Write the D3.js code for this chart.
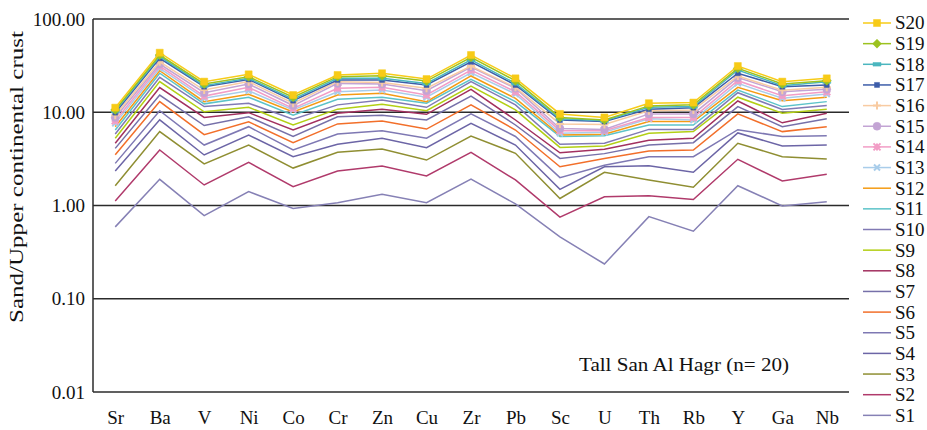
<!DOCTYPE html>
<html>
<head>
<meta charset="utf-8">
<script src="https://cdn.jsdelivr.net/npm/d3@7"></script>
<style>
  body { margin: 0; background: #fff; }
  text { font-family: "Liberation Serif", "DejaVu Serif", serif; fill: #111; }
</style>
</head>
<body>
<script>

// elements on the x axis
var elements = ["Sr", "Ba", "V", "Ni", "Co", "Cr", "Zn", "Cu", "Zr", "Pb", "Sc", "U", "Th", "Rb", "Y", "Ga", "Nb"];

var yTicks = [0.01, 0.1, 1, 10, 100];

// sand / upper continental crust ratios, one list per sample
var S1  = [0.59, 1.91, 0.78, 1.41, 0.93, 1.07, 1.32, 1.07, 1.92, 1.04, 0.46, 0.236, 0.76, 0.53, 1.63, 0.99, 1.10];
var S2  = [1.12, 3.94, 1.66, 2.90, 1.59, 2.34, 2.65, 2.07, 3.72, 1.88, 0.75, 1.24, 1.27, 1.16, 3.13, 1.83, 2.16];
var S3  = [1.63, 6.2, 2.79, 4.45, 2.52, 3.72, 4.03, 3.07, 5.56, 3.63, 1.19, 2.27, 1.88, 1.57, 4.65, 3.34, 3.15];
var S4  = [2.34, 8.3, 3.48, 5.7, 3.34, 4.53, 5.26, 4.17, 7.6, 4.45, 1.49, 2.6, 2.67, 2.27, 6.0, 4.35, 4.45];
var S5  = [2.83, 10.4, 4.45, 7.0, 3.94, 5.85, 6.35, 5.26, 9.6, 5.5, 1.99, 2.7, 3.34, 3.34, 6.5, 5.5, 5.6];
var S6  = [3.5, 13.0, 5.75, 7.9, 4.72, 7.5, 8.05, 6.6, 12.0, 6.45, 2.6, 3.2, 3.85, 3.94, 9.6, 6.2, 7.0];
var S7  = [4.1, 15.3, 7.2, 8.96, 5.5, 8.96, 9.3, 8.26, 14.9, 7.3, 3.2, 3.6, 4.45, 4.72, 11.5, 7.0, 8.5];
var S8  = [4.65, 18.4, 8.8, 9.9, 6.45, 9.75, 10.8, 9.5, 17.6, 8.26, 3.68, 4.0, 5.0, 5.26, 13.2, 7.7, 9.75];
var S9  = [5.26, 21.3, 10.1, 11.3, 7.3, 10.8, 12.2, 10.4, 19.1, 10.6, 4.2, 4.35, 5.95, 6.2, 14.5, 9.75, 10.8];
var S10 = [5.85, 23.7, 11.5, 12.5, 8.4, 12.0, 13.5, 11.3, 21.3, 12.0, 4.53, 4.65, 6.55, 6.55, 16.2, 10.7, 11.8];
var S11 = [6.45, 26.2, 12.3, 14.5, 9.3, 13.8, 14.5, 12.5, 22.5, 13.0, 5.5, 5.6, 7.3, 7.3, 17.3, 11.5, 13.0];
var S12 = [7.0, 27.9, 13.0, 15.6, 10.1, 15.3, 16.0, 13.0, 24.5, 14.1, 5.7, 5.8, 7.95, 7.95, 18.5, 13.3, 14.5];
var S13 = [7.6, 29.6, 14.1, 17.0, 10.6, 16.6, 17.3, 14.5, 26.5, 15.7, 5.95, 6.1, 8.5, 8.26, 20.4, 14.1, 15.7];
var S14 = [8.1, 31.3, 14.9, 18.5, 11.0, 18.1, 18.5, 15.3, 28.4, 16.6, 6.35, 6.35, 8.8, 8.8, 21.8, 15.0, 16.6];
var S15 = [8.8, 32.9, 16.2, 20.1, 11.8, 20.4, 20.1, 17.0, 30.5, 18.1, 6.7, 6.55, 9.6, 9.6, 23.5, 16.6, 17.6];
var S16 = [9.3, 34.8, 17.3, 21.3, 12.5, 21.3, 20.9, 18.1, 31.3, 18.5, 7.5, 7.4, 10.4, 10.6, 24.5, 17.2, 18.5];
var S17 = [9.9, 37.9, 18.8, 22.5, 13.3, 22.2, 22.2, 19.6, 34.8, 19.6, 8.26, 7.95, 10.8, 11.2, 26.2, 18.8, 19.6];
var S18 = [10.3, 39.5, 19.3, 23.1, 13.8, 23.1, 23.1, 20.4, 36.5, 20.4, 8.5, 8.1, 11.3, 11.5, 28.4, 19.3, 21.3];
var S19 = [10.6, 41.1, 20.1, 24.0, 14.5, 24.1, 24.7, 21.6, 38.8, 21.8, 8.8, 8.26, 11.7, 12.0, 29.6, 20.1, 21.8];
var S20 = [11.2, 43.5, 21.3, 25.5, 15.3, 25.1, 26.2, 22.7, 41.1, 23.1, 9.6, 8.8, 12.5, 12.7, 31.3, 21.3, 23.1];

var sampleNames = ["S1", "S2", "S3", "S4", "S5", "S6", "S7", "S8", "S9", "S10",
                   "S11", "S12", "S13", "S14", "S15", "S16", "S17", "S18", "S19", "S20"];
var sampleValues = [S1, S2, S3, S4, S5, S6, S7, S8, S9, S10, S11, S12, S13, S14, S15, S16, S17, S18, S19, S20];

var colors = ["#8681b5", "#b03a6b", "#8f8e32", "#6c65a6", "#7e78b3", "#f26f2a", "#7670a9", "#a2305f", "#b3cf14", "#817ab4",
              "#5cc3c9", "#f59b14", "#a9cdea", "#f29dc6", "#c3a4d4", "#f8cba2", "#3d5da9", "#4bb6bf", "#9cc21f", "#f7cb17"];
var markers = [null, null, null, null, null, null, null, null, null, null,
               null, null, "times", "star", "circle", "plus", "square", "dash", "diamond", "square"];
var markerSize = [0, 0, 0, 0, 0, 0, 0, 0, 0, 0, 0, 0, 6, 7, 8, 8, 5, 8, 9, 7];

var series = sampleNames.map((name, i) => ({
	name: name,
	color: colors[i],
	marker: markers[i],
	msize: markerSize[i],
	values: sampleValues[i].map((v, j) => ({ el: elements[j], v: v }))
}));

var size_graph = { x : 927, y : 430 };
var plot = { left: 93, right: 849, top: 19, bottom: 392 };

var x = d3.scalePoint()
    .domain(elements)
    .range([plot.left, plot.right])
    .padding(0.5);

var y = d3.scaleLog()
    .domain([0.01, 100])
    .range([plot.bottom, plot.top]);

var svg = d3.select("body").append("svg")
    .attr("width", size_graph.x)
    .attr("height", size_graph.y);

// grid lines at each decade
svg.append("g").selectAll("line")
    .data(yTicks)
    .enter().append("line")
    .attr("x1", plot.left).attr("x2", plot.right)
    .attr("y1", d => y(d)).attr("y2", d => y(d))
    .attr("stroke", "#2b2b2b")
    .attr("stroke-width", 1.5);

svg.append("line")
    .attr("x1", plot.left).attr("x2", plot.left)
    .attr("y1", plot.top).attr("y2", plot.bottom)
    .attr("stroke", "#2b2b2b")
    .attr("stroke-width", 1.5);

var yAxis = d3.axisLeft(y).tickValues(yTicks).tickFormat(d3.format(".2f")).tickSize(0).tickPadding(8);
var gy = svg.append("g")
    .attr("transform", `translate(${plot.left},0)`)
    .call(yAxis);
gy.select(".domain").remove();
gy.selectAll("text").style("font-size", "19px").style("font-family", "Liberation Serif").attr("fill", "#111");

var xAxis = d3.axisBottom(x).tickSize(0).tickPadding(19);
var gx = svg.append("g")
    .attr("transform", `translate(0,${plot.bottom})`)
    .call(xAxis);
gx.select(".domain").remove();
gx.selectAll("text").style("font-size", "19px").style("font-family", "Liberation Serif").attr("fill", "#111");

svg.append("text")
    .attr("transform", "translate(23,177) rotate(-90)")
    .attr("text-anchor", "middle")
    .attr("textLength", 292)
    .attr("lengthAdjust", "spacingAndGlyphs")
    .style("font-size", "19px")
    .text("Sand/Upper continental crust");

svg.append("text")
    .attr("x", 684)
    .attr("y", 371)
    .attr("text-anchor", "middle")
    .attr("textLength", 210)
    .attr("lengthAdjust", "spacingAndGlyphs")
    .style("font-size", "19px")
    .text("Tall San Al Hagr (n= 20)");

const markerPath = (type, s) => {
	var h = s / 2;
	if (type === "diamond") return `M0,${-h}L${h},0L0,${h}L${-h},0Z`;
	if (type === "square") return `M${-h},${-h}H${h}V${h}H${-h}Z`;
	if (type === "dash") return `M${-h},-1.8H${h}V1.8H${-h}Z`;
	if (type === "circle") return `M${h},0A${h},${h} 0 1,1 ${-h},0A${h},${h} 0 1,1 ${h},0Z`;
	if (type === "plus") return `M${-h},0H${h}M0,${-h}V${h}`;
	if (type === "times") return `M${-h},${-h}L${h},${h}M${-h},${h}L${h},${-h}`;
	if (type === "star") return `M${-h},${-h}L${h},${h}M${-h},${h}L${h},${-h}M${-h},0H${h}M0,${-h}V${h}`;
	return "";
};
const strokeOnly = t => (t === "plus" || t === "times" || t === "star");

var line = d3.line()
    .x(d => x(d.el))
    .y(d => y(d.v));

var gs = svg.append("g").selectAll("g")
    .data(series)
    .enter().append("g");

gs.append("path")
    .attr("d", d => line(d.values))
    .attr("fill", "none")
    .attr("stroke", d => d.color)
    .attr("stroke-width", 1.5);

gs.filter(d => d.marker)
    .selectAll("path.mk")
    .data(d => d.values.map(p => ({ el: p.el, v: p.v, s: d })))
    .enter().append("path")
    .attr("class", "mk")
    .attr("transform", d => `translate(${x(d.el)},${y(d.v)})`)
    .attr("d", d => markerPath(d.s.marker, d.s.msize))
    .attr("fill", d => strokeOnly(d.s.marker) ? "none" : d.s.color)
    .attr("stroke", d => d.s.color)
    .attr("stroke-width", d => strokeOnly(d.s.marker) ? 2 : 0.5);

// legend, S20 on top
var legend = svg.append("g").selectAll("g")
    .data(series.slice().reverse())
    .enter().append("g")
    .attr("transform", (d, i) => `translate(863,${23 + i * 20.65})`);

legend.append("line")
    .attr("x1", 0).attr("x2", 28)
    .attr("stroke", d => d.color)
    .attr("stroke-width", 1.5);

legend.filter(d => d.marker).append("path")
    .attr("transform", "translate(14,0)")
    .attr("d", d => markerPath(d.marker, d.msize))
    .attr("fill", d => strokeOnly(d.marker) ? "none" : d.color)
    .attr("stroke", d => d.color)
    .attr("stroke-width", d => strokeOnly(d.marker) ? 2 : 0.5);

legend.append("text")
    .attr("x", 32)
    .attr("dy", "0.34em")
    .style("font-size", "19px")
    .text(d => d.name);

</script>
</body>
</html>
